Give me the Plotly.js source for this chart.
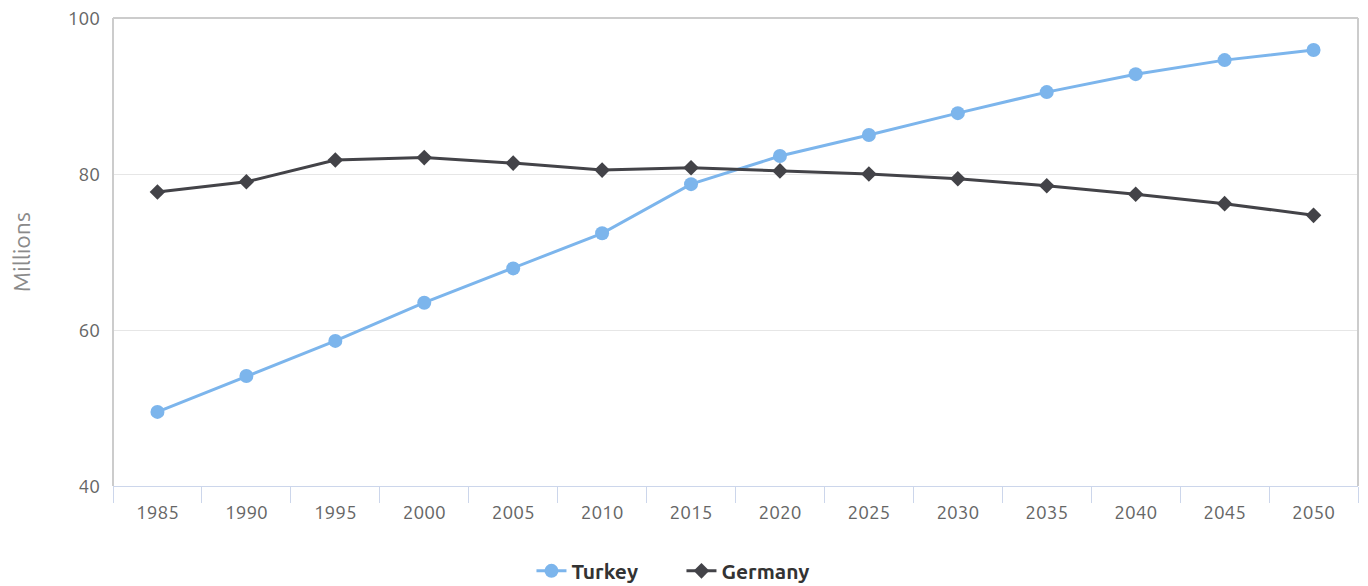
<!DOCTYPE html>
<html>
<head>
<meta charset="utf-8">
<script src="https://cdn.plot.ly/plotly-3.0.1.min.js"></script>
<style>html,body{margin:0;padding:0;background:#fff;}#chart{width:1368px;height:586px;}</style>
</head>
<body>
<div id="chart"></div>
<script>
var years = ["1985","1990","1995","2000","2005","2010","2015","2020","2025","2030","2035","2040","2045","2050"];
var turkey = [49.5, 54.1, 58.6, 63.5, 67.9, 72.4, 78.7, 82.3, 85.0, 87.8, 90.5, 92.8, 94.6, 95.9];
var germany = [77.7, 79.0, 81.8, 82.1, 81.4, 80.5, 80.8, 80.4, 80.0, 79.4, 78.5, 77.4, 76.2, 74.7];
var yTicks = [40, 60, 80, 100];

var font = "Ubuntu, 'Open Sans', 'DejaVu Sans', sans-serif";

var data = [
  {x: years, y: turkey, name: "Turkey", type: "scatter", mode: "lines+markers",
   line: {color: "#7cb5ec", width: 3}, marker: {symbol: "circle", size: 14, color: "#7cb5ec"}},
  {x: years, y: germany, name: "Germany", type: "scatter", mode: "lines+markers",
   line: {color: "#434348", width: 3}, marker: {symbol: "diamond", size: 12, color: "#434348"}}
];

var layout = {
  width: 1368, height: 586,
  margin: {l: 113, r: 10, t: 18, b: 100, autoexpand: false},
  paper_bgcolor: "#fff", plot_bgcolor: "#fff",
  font: {family: font, color: "#666"},
  showlegend: true,
  legend: {orientation: "h", x: 0.4566, xanchor: "center", y: -0.182, yanchor: "middle",
    font: {family: font, size: 21, color: "#333", weight: "bold"},
    entrywidth: 105, entrywidthmode: "pixels"},
  xaxis: {type: "category", range: [-0.5, 13.5], tickson: "boundaries", ticks: "outside", ticklen: 16, tickcolor: "#ccd6eb",
    tickwidth: 1, showline: true, linecolor: "#ccd6eb", linewidth: 1, showgrid: false, zeroline: false,
    ticklabelstandoff: 9,
    tickfont: {family: font, size: 19, color: "#666"}, fixedrange: true},
  yaxis: {range: [40, 100], tickvals: yTicks, ticktext: yTicks.map(String), showgrid: true, gridcolor: "#e6e6e6",
    zeroline: false, showline: false, ticks: "", ticklabelstandoff: 12,
    tickfont: {family: font, size: 19, color: "#666"},
    title: {text: "Millions", font: {family: font, size: 23, color: "#8a8a8a"}, standoff: 30}},
  shapes: [
    {type: "line", xref: "paper", yref: "paper", x0: 0, x1: 0, y0: 0, y1: 1, line: {color: "#cccccc", width: 2}},
    {type: "line", xref: "paper", yref: "paper", x0: 0, x1: 1, y0: 1, y1: 1, line: {color: "#cccccc", width: 2}},
    {type: "line", xref: "paper", yref: "paper", x0: 1, x1: 1, y0: 0, y1: 1, line: {color: "#cccccc", width: 2}}
  ]
};

Plotly.newPlot("chart", data, layout, {displayModeBar: false, staticPlot: true});
</script>
</body>
</html>
